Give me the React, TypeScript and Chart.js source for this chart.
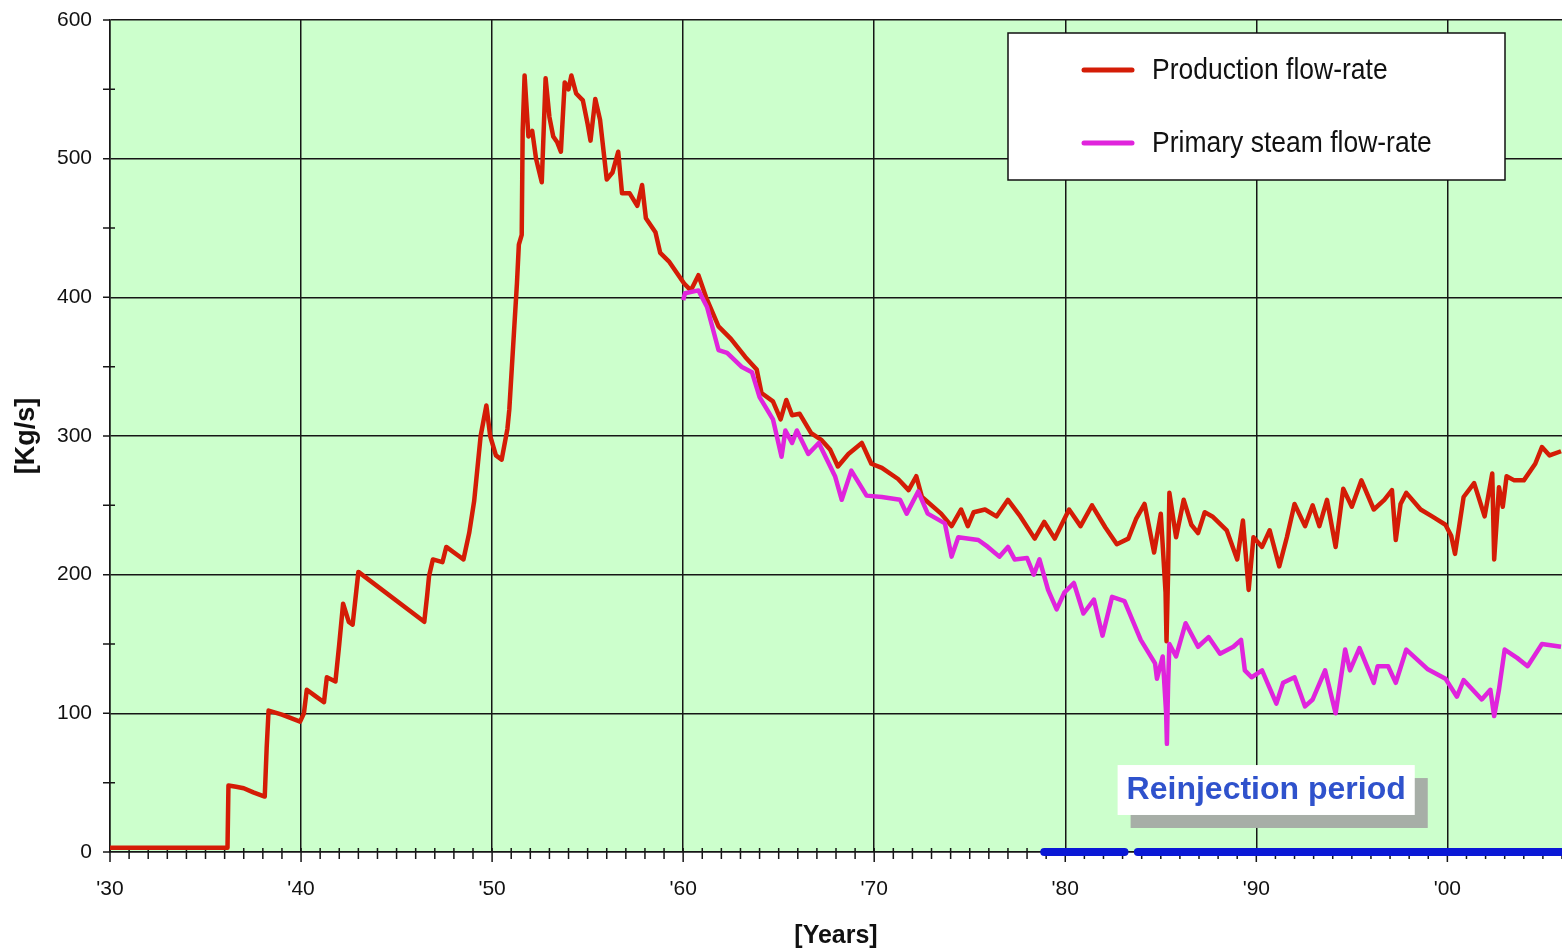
import React, { useEffect, useRef } from 'react';
import { Chart, registerables } from 'chart.js';

Chart.register(...registerables);

// ---- Data ----
const prodYears = [
  1930.0, 1936.15, 1936.2, 1936.6, 1937.0, 1937.5, 1938.1, 1938.2, 1938.3, 1939.0,
  1939.95, 1940.15, 1940.3, 1940.7, 1941.2, 1941.35, 1941.8, 1942.0, 1942.2, 1942.5,
  1942.7, 1943.0, 1946.45, 1946.6, 1946.7, 1946.9, 1947.4, 1947.6, 1948.2, 1948.5,
  1948.8, 1949.06, 1949.4, 1949.7, 1949.9, 1950.2, 1950.5, 1950.8, 1950.9, 1951.15,
  1951.3, 1951.4, 1951.55, 1951.6, 1951.7, 1951.9, 1952.1, 1952.3, 1952.6, 1952.8,
  1953.0, 1953.2, 1953.4, 1953.6, 1953.8, 1954.0, 1954.15, 1954.4, 1954.75, 1955.0,
  1955.15, 1955.4, 1955.65, 1956.0, 1956.3, 1956.6, 1956.8, 1957.2, 1957.6, 1957.85,
  1958.05, 1958.55, 1958.8, 1959.25, 1959.7, 1960.05, 1960.4, 1960.8, 1961.2, 1961.85,
  1962.5, 1963.25, 1963.85, 1964.1, 1964.7, 1965.1, 1965.4, 1965.7, 1966.1, 1966.7,
  1967.25, 1967.7, 1968.1, 1968.65, 1969.35, 1969.85, 1970.4, 1971.25, 1971.8, 1972.2,
  1972.5, 1973.5, 1974.05, 1974.55, 1974.9, 1975.2, 1975.8, 1976.4, 1977.0, 1977.6,
  1978.4, 1978.9, 1979.45, 1980.2, 1980.8, 1981.4, 1982.1, 1982.7, 1983.3, 1983.7,
  1984.15, 1984.65, 1985.0, 1985.25, 1985.3, 1985.38, 1985.45, 1985.8, 1986.2, 1986.6,
  1986.95, 1987.3, 1987.7, 1988.45, 1989.0, 1989.3, 1989.6, 1989.85, 1990.3, 1990.7,
  1991.2, 1991.6, 1992.0, 1992.55, 1992.95, 1993.3, 1993.7, 1994.15, 1994.55, 1995.0,
  1995.5, 1996.15, 1996.7, 1997.1, 1997.3, 1997.55, 1997.85, 1998.6, 1999.2, 1999.9,
  2000.2, 2000.4, 2000.85, 2001.4, 2001.95, 2002.35, 2002.45, 2002.7, 2002.9, 2003.1,
  2003.5, 2004.0, 2004.6, 2004.95, 2005.35, 2005.95,
];
const prodValues = [
  3, 3, 48, 47, 46, 43, 40, 75, 102, 99,
  94, 100, 117, 113, 108, 126, 123, 150, 179, 166,
  164, 202, 166, 185, 199, 211, 209, 220, 214, 211,
  230, 253, 300, 322, 300, 286, 283, 305, 319, 376,
  410, 438, 445, 520, 560, 516, 520, 500, 483, 558,
  530, 516, 512, 505, 555, 550, 560, 547, 542, 525,
  513, 543, 528, 485, 490, 505, 475, 475, 466, 481,
  457, 447, 432, 426, 417, 410, 405, 416, 400, 379,
  370, 357, 348, 331, 325, 312, 326, 315, 316, 302,
  297, 290, 278, 287, 295, 280, 277, 269, 261, 271,
  256, 244, 235, 247, 235, 245, 247, 242, 254, 243,
  226, 238, 226, 247, 235, 250, 234, 222, 226, 240,
  251, 216, 244, 187, 152, 200, 259, 227, 254, 236,
  230, 245, 242, 232, 211, 239, 189, 227, 220, 232,
  206, 227, 251, 235, 250, 235, 254, 220, 262, 249,
  268, 247, 254, 261, 225, 251, 259, 247, 242, 236,
  228, 215, 256, 266, 242, 273, 211, 263, 249, 271,
  268, 268, 280, 292, 286, 289,
];

const steamYears = [
  1960.0, 1960.1, 1960.8, 1961.25, 1961.85, 1962.3, 1963.05, 1963.6, 1964.0, 1964.7,
  1965.15, 1965.35, 1965.7, 1965.95, 1966.55, 1967.1, 1967.95, 1968.3, 1968.8, 1969.6,
  1970.4, 1971.35, 1971.7, 1972.3, 1972.8, 1973.7, 1974.05, 1974.4, 1975.45, 1975.95,
  1976.55, 1977.0, 1977.35, 1978.0, 1978.35, 1978.65, 1979.1, 1979.55, 1979.95, 1980.45,
  1980.95, 1981.5, 1981.95, 1982.45, 1983.1, 1983.95, 1984.7, 1984.8, 1985.1, 1985.28,
  1985.32, 1985.38, 1985.45, 1985.8, 1986.3, 1986.95, 1987.5, 1988.1, 1988.8, 1989.2,
  1989.4, 1989.75, 1990.3, 1991.05, 1991.4, 1992.0, 1992.55, 1992.95, 1993.6, 1994.15,
  1994.65, 1994.9, 1995.4, 1996.15, 1996.35, 1996.9, 1997.3, 1997.85, 1998.95, 1999.9,
  2000.5, 2000.85, 2001.8, 2002.25, 2002.45, 2002.7, 2003.0, 2003.65, 2004.2, 2004.95,
  2005.95,
];
const steamValues = [
  398, 403, 405, 393, 362, 360, 350, 346, 328, 312,
  285, 304, 295, 304, 287, 295, 271, 254, 275, 257,
  256, 254, 244, 260, 244, 237, 213, 227, 225, 220,
  213, 220, 211, 212, 200, 211, 189, 175, 187, 194,
  172, 182, 156, 184, 181, 153, 136, 125, 141, 100,
  78, 120, 150, 141, 165, 148, 155, 143, 148, 153,
  131, 126, 131, 107, 122, 126, 105, 110, 131, 100,
  146, 131, 147, 122, 134, 134, 122, 146, 132, 125,
  112, 124, 110, 117, 98, 117, 146, 140, 134, 150,
  148,
];

const reinjStarts = [1978.9, 1983.8];
const reinjEnds = [1983.1, 2006];

const decadeTicks = [1930, 1940, 1950, 1960, 1970, 1980, 1990, 2000];
const decadeLabels = ["'30", "'40", "'50", "'60", "'70", "'80", "'90", "'00"];
const yMajorTicks = [0, 100, 200, 300, 400, 500, 600];

const seriesLabels = ['Production flow-rate', 'Primary steam flow-rate'];
const seriesColors = ['#d41c06', '#e024dc'];
const reinjLabel = 'Reinjection period';
const xTitle = '[Years]';
const yTitle = '[Kg/s]';

const X_MIN = 1930;
const X_MAX = 2006;
const Y_MIN = 0;
const Y_MAX = 600;

const FONT = '"Liberation Sans", Arial, sans-serif';
const GRID = '#161616';

const yearTicks: number[] = [];
for (let yr = X_MIN; yr <= X_MAX; yr++) yearTicks.push(yr);
const yAllTicks: number[] = [];
for (let v = Y_MIN; v <= Y_MAX; v += 50) yAllTicks.push(v);

const bgPlugin = {
  id: 'plotBg',
  beforeDraw(chart: any) {
    const { ctx, chartArea } = chart;
    ctx.save();
    ctx.fillStyle = '#ffffff';
    ctx.fillRect(0, 0, chart.width, chart.height);
    ctx.fillStyle = '#ccffcc';
    ctx.fillRect(chartArea.left, chartArea.top, chartArea.right - chartArea.left, chartArea.bottom - chartArea.top);
    ctx.restore();
  },
};

const tickPlugin = {
  id: 'crossTicks',
  beforeDatasetsDraw(chart: any) {
    const { ctx, chartArea, scales } = chart;
    const xs = scales.x;
    const ys = scales.y;
    ctx.save();
    ctx.strokeStyle = GRID;
    ctx.lineWidth = 1.5;
    ctx.beginPath();
    yearTicks.forEach((yr) => {
      const px = xs.getPixelForValue(yr);
      const major = yr % 10 === 0;
      ctx.moveTo(px, chartArea.bottom - 4);
      ctx.lineTo(px, chartArea.bottom + (major ? 10 : 7));
    });
    yAllTicks.forEach((v) => {
      const py = ys.getPixelForValue(v);
      const major = v % 100 === 0;
      ctx.moveTo(chartArea.left - 7, py);
      ctx.lineTo(chartArea.left + (major ? 0 : 5), py);
    });
    ctx.stroke();
    ctx.restore();
  },
};

const legendPlugin = {
  id: 'boxLegend',
  afterDraw(chart: any) {
    const { ctx } = chart;
    const left = 1008, top = 33, w = 497, h = 147;
    ctx.save();
    ctx.fillStyle = '#ffffff';
    ctx.fillRect(left, top, w, h);
    ctx.strokeStyle = '#111';
    ctx.lineWidth = 1.5;
    ctx.strokeRect(left, top, w, h);
    const rows = [70, 143];
    seriesLabels.forEach((lab, i) => {
      const ds = chart.data.datasets.find((d: any) => d.label === lab);
      const y = rows[i];
      ctx.strokeStyle = ds ? ds.borderColor : '#000';
      ctx.lineWidth = 5;
      ctx.lineCap = 'round';
      ctx.beginPath();
      ctx.moveTo(1084, y);
      ctx.lineTo(1132, y);
      ctx.stroke();
      ctx.fillStyle = '#111';
      ctx.font = `26.5px ${FONT}`;
      ctx.textBaseline = 'middle';
      ctx.textAlign = 'left';
      ctx.save();
      ctx.translate(1152, y + 1);
      ctx.scale(1, 1.12);
      ctx.fillText(lab, 0, 0);
      ctx.restore();
    });
    ctx.restore();
  },
};

const annotationPlugin = {
  id: 'reinjLabel',
  afterDraw(chart: any) {
    const { ctx, scales } = chart;
    const xs = scales.x;
    const ys = scales.y;
    const left = xs.getPixelForValue(1982.74);
    const top = ys.getPixelForValue(62.7);
    const bottom = ys.getPixelForValue(26.7);
    ctx.save();
    ctx.font = `bold 32px ${FONT}`;
    const tw = ctx.measureText(reinjLabel).width;
    const w = tw + 18;
    const h = bottom - top;
    ctx.fillStyle = '#a7aea7';
    ctx.fillRect(left + 13, top + 13, w, h);
    ctx.fillStyle = '#ffffff';
    ctx.fillRect(left, top, w, h);
    ctx.fillStyle = '#2f52cc';
    ctx.textBaseline = 'middle';
    ctx.textAlign = 'left';
    ctx.fillText(reinjLabel, left + 9, top + h / 2);
    ctx.restore();
  },
};

export default function App() {
  const canvasRef = useRef<HTMLCanvasElement | null>(null);

  useEffect(() => {
    document.body.style.margin = '0';
    const canvas = canvasRef.current;
    if (!canvas) return;

    const prodPoints = prodYears.map((x, i) => ({ x, y: prodValues[i] }));
    const steamPoints = steamYears.map((x, i) => ({ x, y: steamValues[i] }));
    const reinjPoints: any[] = [];
    reinjStarts.forEach((s, i) => {
      if (i > 0) reinjPoints.push({ x: (reinjEnds[i - 1] + s) / 2, y: null });
      reinjPoints.push({ x: s, y: 0 });
      reinjPoints.push({ x: reinjEnds[i], y: 0 });
    });

    const chart = new Chart(canvas, {
      type: 'line',
      data: {
        datasets: [
          {
            label: seriesLabels[0],
            data: prodPoints,
            borderColor: seriesColors[0],
            borderWidth: 4.5,
            pointRadius: 0,
            tension: 0,
            borderJoinStyle: 'round',
            order: 2,
          },
          {
            label: seriesLabels[1],
            data: steamPoints,
            borderColor: seriesColors[1],
            borderWidth: 4.5,
            pointRadius: 0,
            tension: 0,
            borderJoinStyle: 'round',
            order: 1,
          },
          {
            label: reinjLabel,
            data: reinjPoints,
            borderColor: '#0a18d6',
            borderWidth: 8,
            borderCapStyle: 'round',
            pointRadius: 0,
            spanGaps: false,
            clip: false as any,
            order: 0,
          },
        ] as any,
      },
      options: {
        animation: false,
        responsive: true,
        maintainAspectRatio: false,
        events: [],
        layout: { padding: { top: 20, right: 0, left: 0, bottom: 0 } },
        plugins: {
          legend: { display: false },
          tooltip: { enabled: false },
        },
        scales: {
          x: {
            type: 'linear',
            min: X_MIN,
            max: X_MAX,
            afterBuildTicks: (s: any) => {
              s.ticks = yearTicks.map((v) => ({ value: v }));
            },
            afterFit: (s: any) => {
              s.height = 99;
              s.paddingLeft = 0;
              s.paddingRight = 0;
            },
            ticks: {
              autoSkip: false,
              maxRotation: 0,
              minRotation: 0,
              padding: 25,
              color: '#111',
              font: { family: FONT, size: 21 },
              callback: (v: any) => {
                const idx = decadeTicks.indexOf(Math.round(Number(v)));
                return idx >= 0 ? decadeLabels[idx] : '';
              },
            },
            grid: {
              drawTicks: false,
              lineWidth: 1.5,
              color: (c: any) => (c.tick && Math.round(c.tick.value) % 10 === 0 ? GRID : 'rgba(0,0,0,0)'),
            },
            border: { display: true, color: GRID, width: 1.5 },
            title: {
              display: true,
              text: xTitle,
              color: '#111',
              font: { family: FONT, size: 25, weight: 'bold' },
              padding: { top: 0, bottom: 0 },
            },
          },
          y: {
            type: 'linear',
            min: Y_MIN,
            max: Y_MAX,
            afterBuildTicks: (s: any) => {
              s.ticks = yAllTicks.map((v) => ({ value: v }));
            },
            afterFit: (s: any) => {
              s.width = 110;
              s.paddingTop = 0;
              s.paddingBottom = 0;
            },
            ticks: {
              autoSkip: false,
              padding: 18,
              color: '#111',
              font: { family: FONT, size: 21 },
              callback: (v: any) => (yMajorTicks.indexOf(Math.round(Number(v))) >= 0 ? String(Math.round(Number(v))) : ''),
            },
            grid: {
              drawTicks: false,
              lineWidth: 1.5,
              color: (c: any) => (c.tick && Math.round(c.tick.value) % 100 === 0 ? GRID : 'rgba(0,0,0,0)'),
            },
            border: { display: true, color: GRID, width: 1.5 },
            title: {
              display: true,
              text: yTitle,
              color: '#111',
              font: { family: FONT, size: 27, weight: 'bold' },
              padding: { top: 10, bottom: 0 },
            },
          },
        },
      } as any,
      plugins: [bgPlugin, tickPlugin, legendPlugin, annotationPlugin],
    });

    return () => chart.destroy();
  }, []);

  return (
    <div style={{ position: 'absolute', left: 0, top: 0, width: 1562, height: 951 }}>
      <canvas ref={canvasRef} />
    </div>
  );
}
